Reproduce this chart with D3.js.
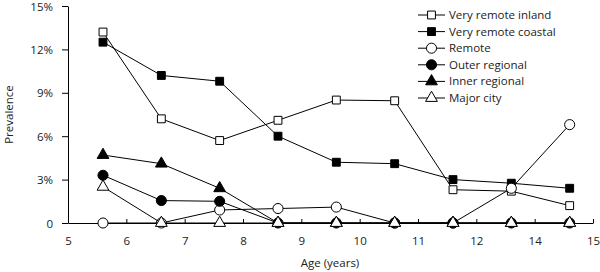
<!DOCTYPE html>
<html lang="en">
<head>
    <meta charset="utf-8">
    <title></title>
    <script src="https://d3js.org/d3.v7.min.js"></script>
    <style type="text/css">
        body{
            margin: 0;
            background: #fff;
        }
        text{
            font-family: "Open Sans", sans-serif;
            font-size: 11.5px;
            fill: #222;
        }
    </style>
</head>
<body>
    <svg id="chart" width="600" height="272"></svg>

    <script type="text/javascript">

        // tick labels along the bottom (13 is skipped in the original)
        const tickLabels = ["5", "6", "7", "8", "9", "10", "11", "12", "14", "15"]
        // points sit between ticks
        const pointPos = [0.6, 1.6, 2.6, 3.6, 4.6, 5.6, 6.6, 7.6, 8.6]

        const yTicks = [0, 3, 6, 9, 12, 15]

        const seriesNames = ["Very remote inland", "Very remote coastal", "Remote", "Outer regional", "Inner regional", "Major city"]

        const veryRemoteInland  = [13.2, 7.2, 5.7, 7.1, 8.5, 8.45, 2.3, 2.2, 1.2]
        const veryRemoteCoastal = [12.5, 10.2, 9.8, 6.0, 4.2, 4.1, 3.0, 2.75, 2.4]
        const remote            = [0, 0, 0.9, 1.0, 1.1, 0, 0, 2.4, 6.8]
        const outerRegional     = [3.3, 1.55, 1.5, 0, 0, 0, 0, 0, 0]
        const innerRegional     = [4.7, 4.1, 2.4, 0, 0, 0, 0, 0, 0]
        const majorCity         = [2.5, 0, 0, 0, 0, 0, 0, 0, 0]

        const seriesValues = [veryRemoteInland, veryRemoteCoastal, remote, outerRegional, innerRegional, majorCity]
        const markers = [
            {shape: d3.symbolSquare, size: 62, fill: "#fff"},
            {shape: d3.symbolSquare, size: 62, fill: "#000"},
            {shape: d3.symbolCircle, size: 80, fill: "#fff"},
            {shape: d3.symbolCircle, size: 80, fill: "#000"},
            {shape: d3.symbolTriangle, size: 60, fill: "#000"},
            {shape: d3.symbolTriangle, size: 60, fill: "#fff"}
        ]

        const svg = d3.select("#chart");

        const x = d3.scaleLinear()
            .domain([0, tickLabels.length - 1])
            .range([68, 593]);

        const y = d3.scaleLinear()
            .domain([0, 15])
            .range([223, 6]);

        // x axis, ticks pointing up
        const xAxis = svg.append("g")
            .attr("transform", "translate(0," + y(0) + ")")
            .call(d3.axisBottom(x)
                .tickValues(d3.range(tickLabels.length))
                .tickFormat(i => tickLabels[i])
                .tickSizeInner(-4)
                .tickSizeOuter(0)
                .tickPadding(14));
        xAxis.select(".domain").attr("stroke", "#000");
        xAxis.selectAll(".tick text").attr("font-size", null).attr("font-family", null);

        const yAxis = svg.append("g")
            .attr("transform", "translate(" + x(0) + ",0)")
            .call(d3.axisLeft(y)
                .tickValues(yTicks)
                .tickFormat(d => d === 0 ? "0" : d + "%")
                .tickSizeInner(6)
                .tickSizeOuter(0)
                .tickPadding(9));
        yAxis.selectAll(".tick text").attr("font-size", null).attr("font-family", null)
            .attr("dy", "0.36em");

        svg.append("text")
            .attr("transform", "translate(13," + y(7.5) + ") rotate(-90)")
            .attr("text-anchor", "middle")
            .text("Prevalence");

        svg.append("text")
            .attr("x", 330)
            .attr("y", 267)
            .attr("text-anchor", "middle")
            .text("Age (years)");

        const line = d3.line()
            .x((d, i) => x(pointPos[i]))
            .y(d => y(d));

        seriesValues.forEach((vals, s) => {
            const g = svg.append("g");
            g.append("path")
                .attr("d", line(vals))
                .attr("fill", "none")
                .attr("stroke", "#000")
                .attr("stroke-width", 1);
            g.selectAll("path.pt")
                .data(vals)
                .enter()
                .append("path")
                .attr("class", "pt")
                .attr("transform", (d, i) => "translate(" + x(pointPos[i]) + "," + y(d) + ")")
                .attr("d", d3.symbol().type(markers[s].shape).size(markers[s].size))
                .attr("fill", markers[s].fill)
                .attr("stroke", "#000")
                .attr("stroke-width", 1);
        });

        // legend
        const legend = svg.append("g")
            .attr("transform", "translate(418,15)");

        const rows = legend.selectAll("g")
            .data(seriesNames)
            .enter()
            .append("g")
            .attr("transform", (d, i) => "translate(0," + i * 16.6 + ")");

        rows.append("line")
            .attr("x1", 0)
            .attr("x2", 27)
            .attr("stroke", "#000");

        rows.append("path")
            .attr("transform", "translate(13.5,0)")
            .attr("d", (d, i) => d3.symbol().type(markers[i].shape).size(markers[i].size)())
            .attr("fill", (d, i) => markers[i].fill)
            .attr("stroke", "#000");

        rows.append("text")
            .attr("x", 31)
            .attr("dy", "0.35em")
            .text(d => d);

    </script>
</body>
</html>
